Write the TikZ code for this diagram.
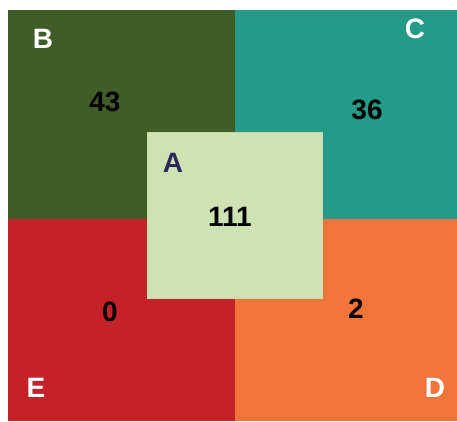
\documentclass[tikz,border=0pt]{standalone}
\usepackage{fontspec}
\setmainfont{Liberation Sans}
\usepackage{tikz}
\usetikzlibrary{positioning}
\definecolor{setB}{RGB}{63,92,41}
\definecolor{setC}{RGB}{37,154,136}
\definecolor{setE}{RGB}{196,34,41}
\definecolor{setD}{RGB}{240,117,60}
\definecolor{setA}{RGB}{207,226,180}
\definecolor{setAedge}{RGB}{196,218,168}
\definecolor{inkA}{RGB}{45,40,90}

\begin{document}
\begin{tikzpicture}[x=1pt,y=-1pt,
  every node/.style={inner sep=0pt,outer sep=0pt},
  setname/.style={font=\fontsize{28}{30}\selectfont\bfseries,text=white},
  count/.style={font=\fontsize{28}{30}\selectfont\bfseries,text=black}]

\useasboundingbox (0,0) rectangle (457,421);

% --- 1. the four outer regions
\fill[setB] (8,10) rectangle (235,219);
\fill[setC] (235,10) rectangle (457,219);
\fill[setE] (8,219) rectangle (235,421);
\fill[setD] (235,219) rectangle (457,421);
% --- 2. the middle square
\draw[setAedge,fill=setA] (147,132) rectangle (322,298);

% --- 3. names
\node[setname] (nameB) at (43,39) {B};
\node[setname] (nameC) at (415,29) {C};
\node[setname] (nameE) at (36,388) {E};
\node[setname] (nameD) at (435,388) {D};
\node[setname,text=inkA] (nameA) at (173,163) {A};

% --- 4. counts
\node[count] (cntB) at (105,102) {43};
\node[count] (cntC) at (367,110) {36};
\node[count] (cntE) at (110,312) {0};
\node[count] (cntD) at (356,309) {2};
\node[count] (cntA) at (230,217) {111};
\end{tikzpicture}
\end{document}
